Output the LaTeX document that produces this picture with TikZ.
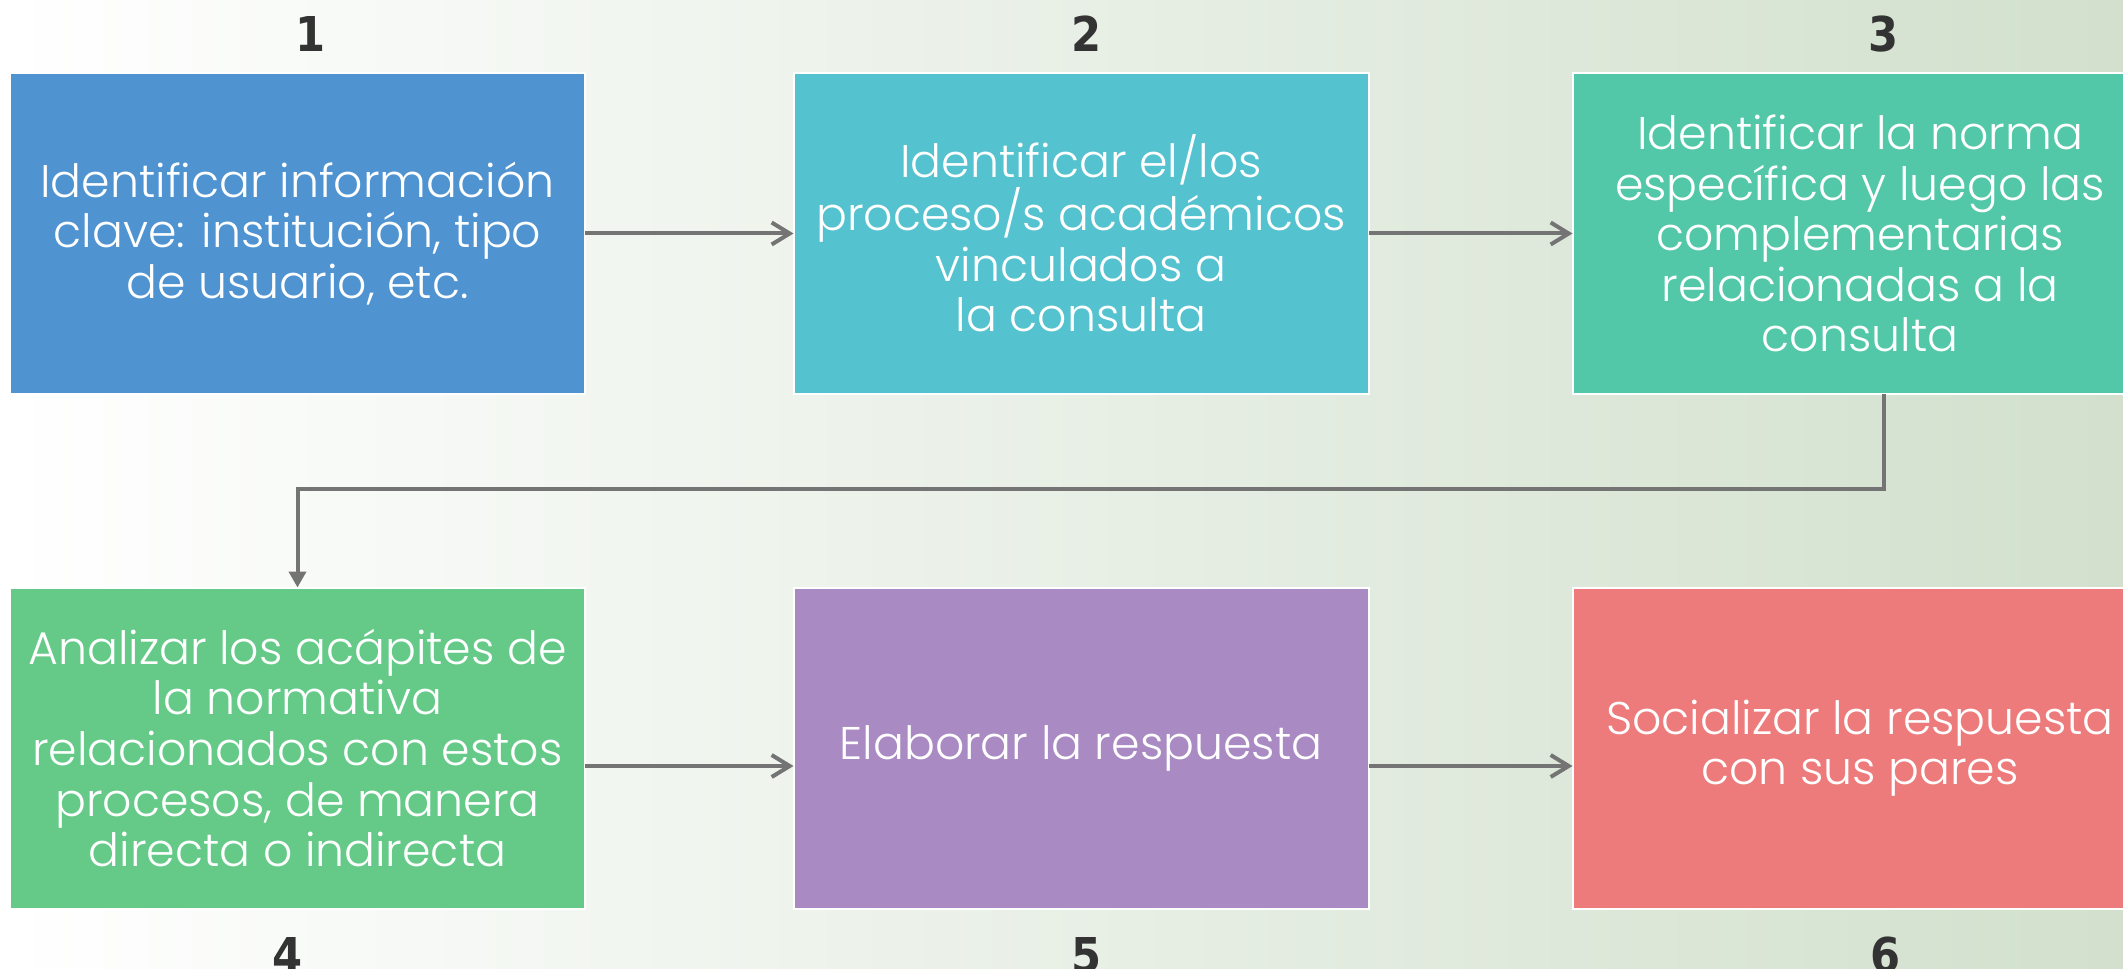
\documentclass[tikz,border=0pt]{standalone}
\usepackage{fontspec}
\setmainfont{Poppins}
\newfontfamily\boxfont{Poppins Light}
\newfontfamily\numfont{DejaVu Sans Condensed Bold}
\usetikzlibrary{arrows.meta}
\definecolor{stepA}{HTML}{4F93D1}
\definecolor{stepB}{HTML}{55C2CF}
\definecolor{stepC}{HTML}{52C8A8}
\definecolor{stepD}{HTML}{65CA88}
\definecolor{stepE}{HTML}{A98AC2}
\definecolor{stepF}{HTML}{EE7B7B}
\definecolor{flowgray}{HTML}{747474}
\definecolor{numgray}{HTML}{333333}
\definecolor{bgmid}{HTML}{ECEFEA}
\definecolor{bgright}{HTML}{D2E0CD}
\tikzset{
	stepbox/.style={rectangle, draw=white, line width=1pt, text=white, align=center,
		minimum width=287.5pt, minimum height=160.5pt, inner sep=0pt, outer sep=0pt,
		font=\boxfont\fontsize{22.9pt}{25.3pt}\selectfont},
	stepnum/.style={text=numgray, font=\numfont\fontsize{24pt}{26pt}\selectfont},
	flow/.style={draw=flowgray, line width=2pt, -{Straight Barb[length=9pt,width=11pt]}},
	drop/.style={draw=flowgray, line width=2pt, -{Triangle[length=8pt,width=8.5pt]}}
}

\begin{document}
\begin{tikzpicture}[x=0.5pt,y=-0.5pt]
		%%%%% START %%%%%
		
		\clip (0, 0) rectangle (2123, 968);
		\shade[left color=white, middle color=bgmid, right color=bgright] (0, 0) rectangle (2123, 968);
		
		% top row
		\node[stepbox, fill=stepA] (b1) at (297.5, 233.5) {Identificar información\\clave: institución, tipo\\de usuario, etc.};
		\node[stepbox, fill=stepB] (b2) at (1081, 233.5) {Identificar el/los\\proceso/s académicos\\vinculados a\\la consulta};
		\node[stepbox, fill=stepC] (b3) at (1860, 233.5) {Identificar la norma\\específica y luego las\\complementarias\\relacionadas a la\\consulta};
		
		% bottom row
		\node[stepbox, fill=stepD] (b4) at (297.5, 748) {Analizar los acápites de\\la normativa\\relacionados con estos\\procesos, de manera\\directa o indirecta};
		\node[stepbox, fill=stepE] (b5) at (1081, 748) {Elaborar la respuesta};
		\node[stepbox, fill=stepF] (b6) at (1860, 748) {Socializar la respuesta\\con sus pares};
		
		\node[stepnum] (n1) at (311, 34) {1};
		\node[stepnum] (n2) at (1087, 34) {2};
		\node[stepnum] (n3) at (1883, 34) {3};
		\node[stepnum] (n4) at (288, 955) {4};
		\node[stepnum] (n5) at (1087, 955) {5};
		\node[stepnum] (n6) at (1885, 955) {6};
		
		\draw[flow] (b1) -- (b2);
		\draw[flow] (b2) -- (b3);
		
		\coordinate (turn) at (1000, 489);
		\draw[drop] ([xshift=12pt]b3.south) |- (turn) -| (b4.north);
		
		\draw[flow] ([yshift=-9pt]b4.east) -- ([yshift=-9pt]b5.west);
		\draw[flow] ([yshift=-9pt]b5.east) -- ([yshift=-9pt]b6.west);
		
		%%%%% END %%%%%
	\end{tikzpicture}
\end{document}
